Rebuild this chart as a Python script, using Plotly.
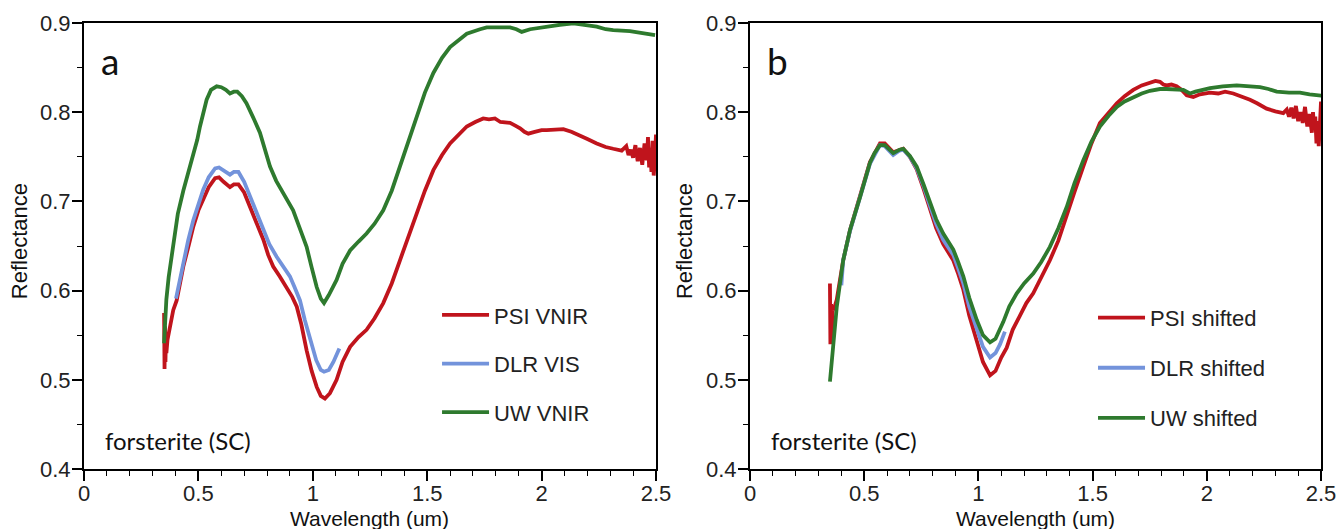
import plotly.graph_objects as go
from plotly.subplots import make_subplots

# ---------------------------------------------------
# DATA  (wavelength in um, reflectance)
# ---------------------------------------------------

psi_vnir_x = [0.350, 0.352, 0.354, 0.356, 0.358, 0.360, 0.365, 0.370, 0.375, 0.380,
              0.390, 0.405, 0.420, 0.434, 0.455, 0.478, 0.500, 0.521, 0.545, 0.573,
              0.590, 0.610, 0.638, 0.655, 0.675, 0.700, 0.726, 0.755, 0.784, 0.805,
              0.827, 0.855, 0.886, 0.910, 0.930, 0.950, 0.973, 0.995, 1.017, 1.035,
              1.053, 1.075, 1.104, 1.130, 1.163, 1.200, 1.235, 1.270, 1.308, 1.345,
              1.381, 1.420, 1.454, 1.490, 1.527, 1.565, 1.600, 1.640, 1.673, 1.710,
              1.745, 1.770, 1.796, 1.820, 1.862, 1.885, 1.906, 1.925, 1.942, 1.970,
              2.000, 2.022, 2.060, 2.095, 2.130, 2.168, 2.200, 2.241, 2.280, 2.313,
              2.350, 2.370, 2.380, 2.390, 2.400, 2.410, 2.420, 2.430, 2.440, 2.450,
              2.460, 2.465, 2.470, 2.475, 2.480, 2.485, 2.490, 2.495, 2.500, 2.500]
psi_vnir_y = [0.575, 0.512, 0.560, 0.520, 0.548, 0.530, 0.545, 0.552, 0.560, 0.566,
              0.578, 0.589, 0.608, 0.627, 0.648, 0.672, 0.690, 0.702, 0.716, 0.726,
              0.727, 0.722, 0.716, 0.719, 0.719, 0.710, 0.694, 0.676, 0.657, 0.640,
              0.627, 0.616, 0.604, 0.593, 0.582, 0.562, 0.533, 0.510, 0.492, 0.482,
              0.479, 0.485, 0.500, 0.520, 0.537, 0.548, 0.556, 0.569, 0.586, 0.608,
              0.634, 0.662, 0.687, 0.712, 0.735, 0.752, 0.765, 0.776, 0.784, 0.789,
              0.793, 0.792, 0.793, 0.789, 0.788, 0.785, 0.782, 0.778, 0.776, 0.778,
              0.780, 0.780, 0.781, 0.781, 0.778, 0.774, 0.770, 0.765, 0.761, 0.759,
              0.757, 0.762, 0.752, 0.758, 0.749, 0.763, 0.745, 0.760, 0.741, 0.765,
              0.746, 0.772, 0.738, 0.760, 0.733, 0.768, 0.729, 0.745, 0.775, 0.740]

dlr_vis_x = [0.402, 0.418, 0.434, 0.455, 0.478, 0.500, 0.521, 0.545, 0.573, 0.590,
             0.610, 0.638, 0.655, 0.675, 0.700, 0.726, 0.755, 0.784, 0.810, 0.842,
             0.870, 0.900, 0.920, 0.944, 0.965, 0.988, 1.015, 1.035, 1.049, 1.070,
             1.090, 1.116]
dlr_vis_y = [0.591, 0.612, 0.634, 0.656, 0.679, 0.697, 0.713, 0.727, 0.737, 0.738,
             0.735, 0.730, 0.733, 0.733, 0.722, 0.705, 0.686, 0.668, 0.652, 0.638,
             0.627, 0.616, 0.604, 0.589, 0.567, 0.545, 0.522, 0.511, 0.509, 0.511,
             0.520, 0.535]

uw_vnir_x = [0.350, 0.360, 0.370, 0.390, 0.410, 0.434, 0.455, 0.478, 0.495, 0.507,
             0.520, 0.536, 0.555, 0.580, 0.600, 0.620, 0.638, 0.655, 0.670, 0.690,
             0.710, 0.726, 0.745, 0.769, 0.790, 0.813, 0.840, 0.871, 0.894, 0.914,
             0.940, 0.973, 0.995, 1.017, 1.035, 1.049, 1.070, 1.104, 1.130, 1.163,
             1.200, 1.235, 1.270, 1.308, 1.345, 1.381, 1.420, 1.454, 1.490, 1.527,
             1.565, 1.600, 1.640, 1.673, 1.731, 1.760, 1.800, 1.862, 1.890, 1.913,
             1.950, 2.022, 2.080, 2.139, 2.190, 2.241, 2.280, 2.313, 2.386, 2.440,
             2.496]
uw_vnir_y = [0.541, 0.590, 0.615, 0.649, 0.686, 0.712, 0.732, 0.752, 0.769, 0.784,
             0.799, 0.814, 0.825, 0.829, 0.828, 0.825, 0.821, 0.823, 0.823, 0.818,
             0.810, 0.802, 0.791, 0.777, 0.758, 0.739, 0.723, 0.709, 0.700, 0.690,
             0.672, 0.649, 0.626, 0.604, 0.591, 0.586, 0.595, 0.612, 0.630, 0.645,
             0.655, 0.664, 0.675, 0.690, 0.712, 0.739, 0.768, 0.795, 0.822, 0.844,
             0.861, 0.873, 0.882, 0.888, 0.893, 0.895, 0.895, 0.895, 0.893, 0.890,
             0.893, 0.896, 0.898, 0.8995, 0.898, 0.896, 0.893, 0.892, 0.891, 0.889,
             0.8865]

psi_shift_x = [0.350, 0.352, 0.355, 0.358, 0.362, 0.366, 0.380, 0.408, 0.438, 0.482,
               0.525, 0.569, 0.590, 0.627, 0.655, 0.671, 0.700, 0.730, 0.760, 0.788,
               0.815, 0.846, 0.870, 0.890, 0.910, 0.934, 0.960, 0.993, 1.020, 1.051,
               1.075, 1.100, 1.124, 1.150, 1.182, 1.210, 1.240, 1.275, 1.313, 1.350,
               1.387, 1.420, 1.459, 1.495, 1.532, 1.570, 1.606, 1.640, 1.678, 1.715,
               1.751, 1.775, 1.795, 1.810, 1.824, 1.845, 1.868, 1.890, 1.912, 1.926,
               1.941, 1.970, 2.014, 2.050, 2.080, 2.116, 2.150, 2.189, 2.220, 2.262,
               2.300, 2.335, 2.350, 2.360, 2.370, 2.380, 2.390, 2.400, 2.410, 2.420,
               2.430, 2.440, 2.450, 2.460, 2.465, 2.470, 2.475, 2.480, 2.485, 2.490,
               2.495, 2.500, 2.500]
psi_shift_y = [0.608, 0.540, 0.585, 0.545, 0.580, 0.578, 0.590, 0.634, 0.668, 0.706,
               0.744, 0.765, 0.765, 0.755, 0.758, 0.759, 0.750, 0.736, 0.714, 0.692,
               0.670, 0.652, 0.643, 0.634, 0.620, 0.601, 0.572, 0.545, 0.520, 0.505,
               0.510, 0.525, 0.536, 0.556, 0.573, 0.586, 0.597, 0.614, 0.634, 0.656,
               0.683, 0.710, 0.739, 0.765, 0.788, 0.800, 0.810, 0.818, 0.825, 0.830,
               0.833, 0.835, 0.834, 0.831, 0.830, 0.831, 0.829, 0.825, 0.819, 0.818,
               0.817, 0.820, 0.822, 0.821, 0.823, 0.821, 0.818, 0.814, 0.810, 0.804,
               0.801, 0.799, 0.803, 0.795, 0.805, 0.793, 0.807, 0.790, 0.800, 0.788,
               0.806, 0.784, 0.798, 0.777, 0.800, 0.780, 0.795, 0.765, 0.790, 0.762,
               0.785, 0.812, 0.784]

dlr_shift_x = [0.400, 0.408, 0.438, 0.482, 0.525, 0.569, 0.590, 0.627, 0.655, 0.671,
               0.700, 0.730, 0.760, 0.788, 0.815, 0.846, 0.870, 0.890, 0.910, 0.934,
               0.960, 0.993, 1.020, 1.051, 1.075, 1.095, 1.116]
dlr_shift_y = [0.606, 0.634, 0.667, 0.705, 0.742, 0.763, 0.762, 0.752, 0.757, 0.758,
               0.750, 0.737, 0.717, 0.695, 0.675, 0.657, 0.648, 0.640, 0.626, 0.608,
               0.582, 0.556, 0.537, 0.525, 0.530, 0.540, 0.554]

uw_shift_x = [0.350, 0.365, 0.380, 0.408, 0.438, 0.482, 0.525, 0.545, 0.569, 0.590,
              0.627, 0.655, 0.671, 0.700, 0.730, 0.760, 0.788, 0.815, 0.846, 0.870,
              0.890, 0.910, 0.934, 0.960, 0.993, 1.020, 1.051, 1.075, 1.095, 1.109,
              1.135, 1.168, 1.200, 1.240, 1.275, 1.313, 1.350, 1.387, 1.420, 1.459,
              1.495, 1.532, 1.570, 1.606, 1.640, 1.678, 1.715, 1.751, 1.795, 1.824,
              1.860, 1.897, 1.926, 1.950, 2.014, 2.070, 2.131, 2.180, 2.233, 2.270,
              2.306, 2.360, 2.408, 2.450, 2.503]
uw_shift_y = [0.498, 0.540, 0.582, 0.634, 0.668, 0.705, 0.743, 0.754, 0.763, 0.763,
              0.754, 0.758, 0.759, 0.751, 0.739, 0.719, 0.698, 0.680, 0.664, 0.655,
              0.646, 0.633, 0.616, 0.592, 0.567, 0.550, 0.542, 0.546, 0.556, 0.565,
              0.582, 0.597, 0.608, 0.619, 0.632, 0.649, 0.670, 0.694, 0.720, 0.746,
              0.767, 0.784, 0.796, 0.806, 0.812, 0.817, 0.821, 0.824, 0.826, 0.826,
              0.826, 0.825, 0.821, 0.823, 0.827, 0.829, 0.830, 0.829, 0.828, 0.826,
              0.823, 0.822, 0.822, 0.820, 0.8185]

x_tick_vals = [0, 0.5, 1, 1.5, 2, 2.5]
y_tick_vals = [0.4, 0.5, 0.6, 0.7, 0.8, 0.9]

# ---------------------------------------------------
# STYLE
# ---------------------------------------------------

RED = "#C0141C"
BLUE = "#7393DB"
GREEN = "#2E7A2E"
LINE_W = 3.8
FONT = "Arial"

fig = make_subplots(rows=1, cols=2)

left_series = [
    ("PSI VNIR", psi_vnir_x, psi_vnir_y, RED),
    ("DLR VIS", dlr_vis_x, dlr_vis_y, BLUE),
    ("UW VNIR", uw_vnir_x, uw_vnir_y, GREEN),
]
right_series = [
    ("PSI shifted", psi_shift_x, psi_shift_y, RED),
    ("DLR shifted", dlr_shift_x, dlr_shift_y, BLUE),
    ("UW shifted", uw_shift_x, uw_shift_y, GREEN),
]

for name, xs, ys, color in left_series:
    fig.add_trace(
        go.Scatter(x=xs, y=ys, mode="lines", name=name,
                   line=dict(color=color, width=LINE_W),
                   legend="legend", legendgroup=name),
        row=1, col=1
    )

for name, xs, ys, color in right_series:
    fig.add_trace(
        go.Scatter(x=xs, y=ys, mode="lines", name=name,
                   line=dict(color=color, width=LINE_W),
                   legend="legend2", legendgroup=name),
        row=1, col=2
    )

axis_common = dict(
    showgrid=False, zeroline=False, automargin=False,
    showline=True, linecolor="black", linewidth=2, mirror=True,
    ticks="outside", ticklen=10, tickwidth=1.5, tickcolor="black",
    tickfont=dict(family=FONT, size=22, color="#222"),
)

fig.update_xaxes(range=[0, 2.5], tickvals=x_tick_vals, ticklabelstandoff=-6,
                 minor=dict(dtick=0.1, ticks="outside", ticklen=5,
                            tickwidth=1, tickcolor="black"),
                 **axis_common)
fig.update_yaxes(range=[0.4, 0.9], tickvals=y_tick_vals, ticklabelstandoff=-3,
                 minor=dict(dtick=0.05, ticks="outside", ticklen=5,
                            tickwidth=1, tickcolor="black"),
                 **axis_common)

fig.update_layout(xaxis=dict(domain=[0, 0.4624]),
                  xaxis2=dict(domain=[0.5384, 1.0]))

legend_common = dict(
    xanchor="left", yanchor="top",
    font=dict(family=FONT, size=22, color="#222"),
    itemwidth=47,
    bgcolor="rgba(0,0,0,0)",
)

fig.update_layout(
    width=1338, height=529,
    margin=dict(l=84, r=17, t=23, b=60, autoexpand=False),
    paper_bgcolor="white", plot_bgcolor="white",
    legend=dict(x=0.2854, y=0.392, tracegroupgap=17, **legend_common),
    legend2=dict(x=0.8157, y=0.386, tracegroupgap=18.5, **legend_common),
    showlegend=True,
)

# ---------------------------------------------------
# TEXT LABELS
# ---------------------------------------------------

texts = [
    dict(text="a", x=0.012, y=0.915, size=37, family="Lato", anchor="left"),
    dict(text="b", x=0.5504, y=0.915, size=37, family="Lato", anchor="left"),
    dict(text="forsterite (SC)", x=0.0151, y=0.065, size=24, family="Lato", anchor="left"),
    dict(text="forsterite (SC)", x=0.5535, y=0.065, size=24, family="Lato", anchor="left"),
    dict(text="Wavelength (um)", x=0.2312, y=-0.110, size=21, family=FONT, anchor="center"),
    dict(text="Wavelength (um)", x=0.7692, y=-0.110, size=21, family=FONT, anchor="center"),
]
for t in texts:
    fig.add_annotation(text=t["text"], x=t["x"], y=t["y"], xref="paper", yref="paper",
                       xanchor=t["anchor"], yanchor="middle", showarrow=False,
                       font=dict(family=t["family"], size=t["size"], color="#111"))

for xpos in [-0.052, 0.4855]:
    fig.add_annotation(text="Reflectance", x=xpos, y=0.51, xref="paper", yref="paper",
                       xanchor="center", yanchor="middle", showarrow=False, textangle=-90,
                       font=dict(family=FONT, size=22, color="#111"))

fig.write_html("out.html", config={"displayModeBar": False},
               post_script="document.body.style.margin='0';")
